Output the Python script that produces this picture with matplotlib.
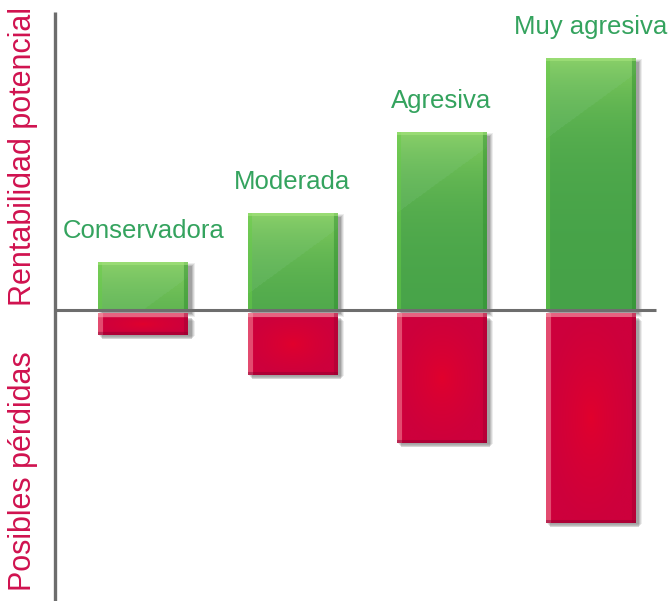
import numpy as np
import matplotlib.pyplot as plt
from matplotlib.colors import to_rgb
from matplotlib.patches import Rectangle

# Perfiles de inversión: rentabilidad potencial vs. posibles pérdidas
profiles = ['Conservadora', 'Moderada', 'Agresiva', 'Muy agresiva']
rentabilidad = [4.8, 9.7, 17.8, 25.2]
perdidas = [2.5, 6.5, 13.3, 21.3]

GREEN_TXT = '#34a35e'
RED_TXT = '#d0124f'
AXIS_GREY = '#6d6d6d'

plt.rcParams['font.family'] = ['Liberation Sans', 'DejaVu Sans']

fig = plt.figure(figsize=(6.68, 6.01), dpi=100)
ax = fig.add_axes([0, 0, 1, 1])
ax.set_xlim(0.04, 4.52)
ax.set_ylim(-29.1, 31.0)
ax.axis('off')

x = np.arange(1, len(profiles) + 1)
width = 0.6
gap = 0.35


def bar_pixels(patch):
    (x0, y0), (x1, y1) = ax.transData.transform([(patch.get_x(), patch.get_y()),
                                                 (patch.get_x() + patch.get_width(),
                                                  patch.get_y() + patch.get_height())])
    return max(int(abs(x1 - x0)), 2), max(int(abs(y1 - y0)), 2)


def green_image(w, h):
    ry = np.arange(h)[:, None]
    cols = np.linspace(0, 1, w)[None, :]
    top, bot = np.array(to_rgb('#88d060')), np.array(to_rgb('#45a248'))
    t = np.exp(-ry / 55.0)[..., None]
    img = bot * (1 - t) + top * t
    img = np.broadcast_to(img, (h, w, 3)).copy()
    # brillo diagonal arriba a la izquierda
    boundary = 15 + 65 * (1 - cols)
    gloss = np.broadcast_to(ry < boundary, (h, w))
    img[gloss] = img[gloss] * 0.85 + np.array(to_rgb('#8fcf9a')) * 0.15
    img[:, :4] = img[:, :4] * 0.5 + np.array(to_rgb('#66cc44')) * 0.5
    img[:, -4:] = img[:, -4:] * 0.55 + np.array(to_rgb('#2a8a2a')) * 0.45
    img[:3, :] = img[:3, :] * 0.45 + np.array(to_rgb('#a8e67e')) * 0.55
    return img


def red_image(w, h):
    ry = np.linspace(-1, 1, h)[:, None]
    cx = np.linspace(-1, 1, w)[None, :]
    r = np.clip(np.sqrt(cx ** 2 + ry ** 2), 0, 1) ** 0.7
    img = (np.array(to_rgb('#e2002c')) * (1 - r[..., None])
           + np.array(to_rgb('#cd003c')) * r[..., None])
    img[:, :5] = img[:, :5] * 0.45 + np.array(to_rgb('#f58a9a')) * 0.55
    img[:4, :] = img[:4, :] * 0.4 + np.array(to_rgb('#f6a6b0')) * 0.6
    img[:, -4:] = img[:, -4:] * 0.6 + np.array(to_rgb('#9a0030')) * 0.4
    img[-3:, :] = img[-3:, :] * 0.55 + np.array(to_rgb('#8a0030')) * 0.45
    return img


def soft_shadow(patch):
    px, py = 1 / 149, 1 / 10
    for k, a in enumerate([0.10, 0.14, 0.18, 0.24]):
        grow = 3 - k
        ax.add_patch(Rectangle((patch.get_x() + (4 - grow) * px,
                                patch.get_y() - (4 + grow) * py),
                               patch.get_width() + 2 * grow * px,
                               patch.get_height() + 2 * grow * py,
                               facecolor='#505050', edgecolor='none',
                               alpha=a, zorder=1))


green = ax.bar(x, rentabilidad, width=width, bottom=0, color='#55b045', zorder=2)
red = ax.bar(x, [-(p - gap) for p in perdidas], width=width, bottom=-gap,
             color='#d8003a', zorder=2)

for patch in list(green) + list(red):
    soft_shadow(patch)

for patch in green:
    w, h = bar_pixels(patch)
    ax.imshow(green_image(w, h), extent=[patch.get_x(), patch.get_x() + patch.get_width(),
                                         patch.get_y(), patch.get_y() + patch.get_height()],
              aspect='auto', interpolation='bilinear', zorder=3)

for patch in red:
    w, h = bar_pixels(patch)
    y_top = patch.get_y()
    y_bot = patch.get_y() + patch.get_height()
    ax.imshow(red_image(w, h), extent=[patch.get_x(), patch.get_x() + patch.get_width(),
                                       y_bot, y_top],
              aspect='auto', interpolation='bilinear', zorder=3)

ax.set_xlim(0.04, 4.52)
ax.set_ylim(-29.1, 31.0)

# ejes
x_axis = 1 - 88 / 149
ax.plot([x_axis, x_axis], [29.8, -29.1], color=AXIS_GREY, lw=2.4, zorder=5,
        solid_capstyle='butt')
ax.plot([x_axis, 1 + 512 / 149], [0, 0], color=AXIS_GREY, lw=2.2, zorder=5,
        solid_capstyle='butt')

for xi, val, name in zip(x, rentabilidad, profiles):
    ax.text(xi, val + 3.1, name, color=GREEN_TXT, fontsize=18.5,
            ha='center', va='center', zorder=6)

ax.text(1 + (23 - 143) / 149, 15.3, 'Rentabilidad potencial', color=RED_TXT,
        fontsize=22, rotation=90, ha='center', va='center')
ax.text(1 + (23 - 143) / 149, -16.1, 'Posibles pérdidas', color=RED_TXT,
        fontsize=22, rotation=90, ha='center', va='center')

fig.savefig('out.png', dpi=100, facecolor='white')
